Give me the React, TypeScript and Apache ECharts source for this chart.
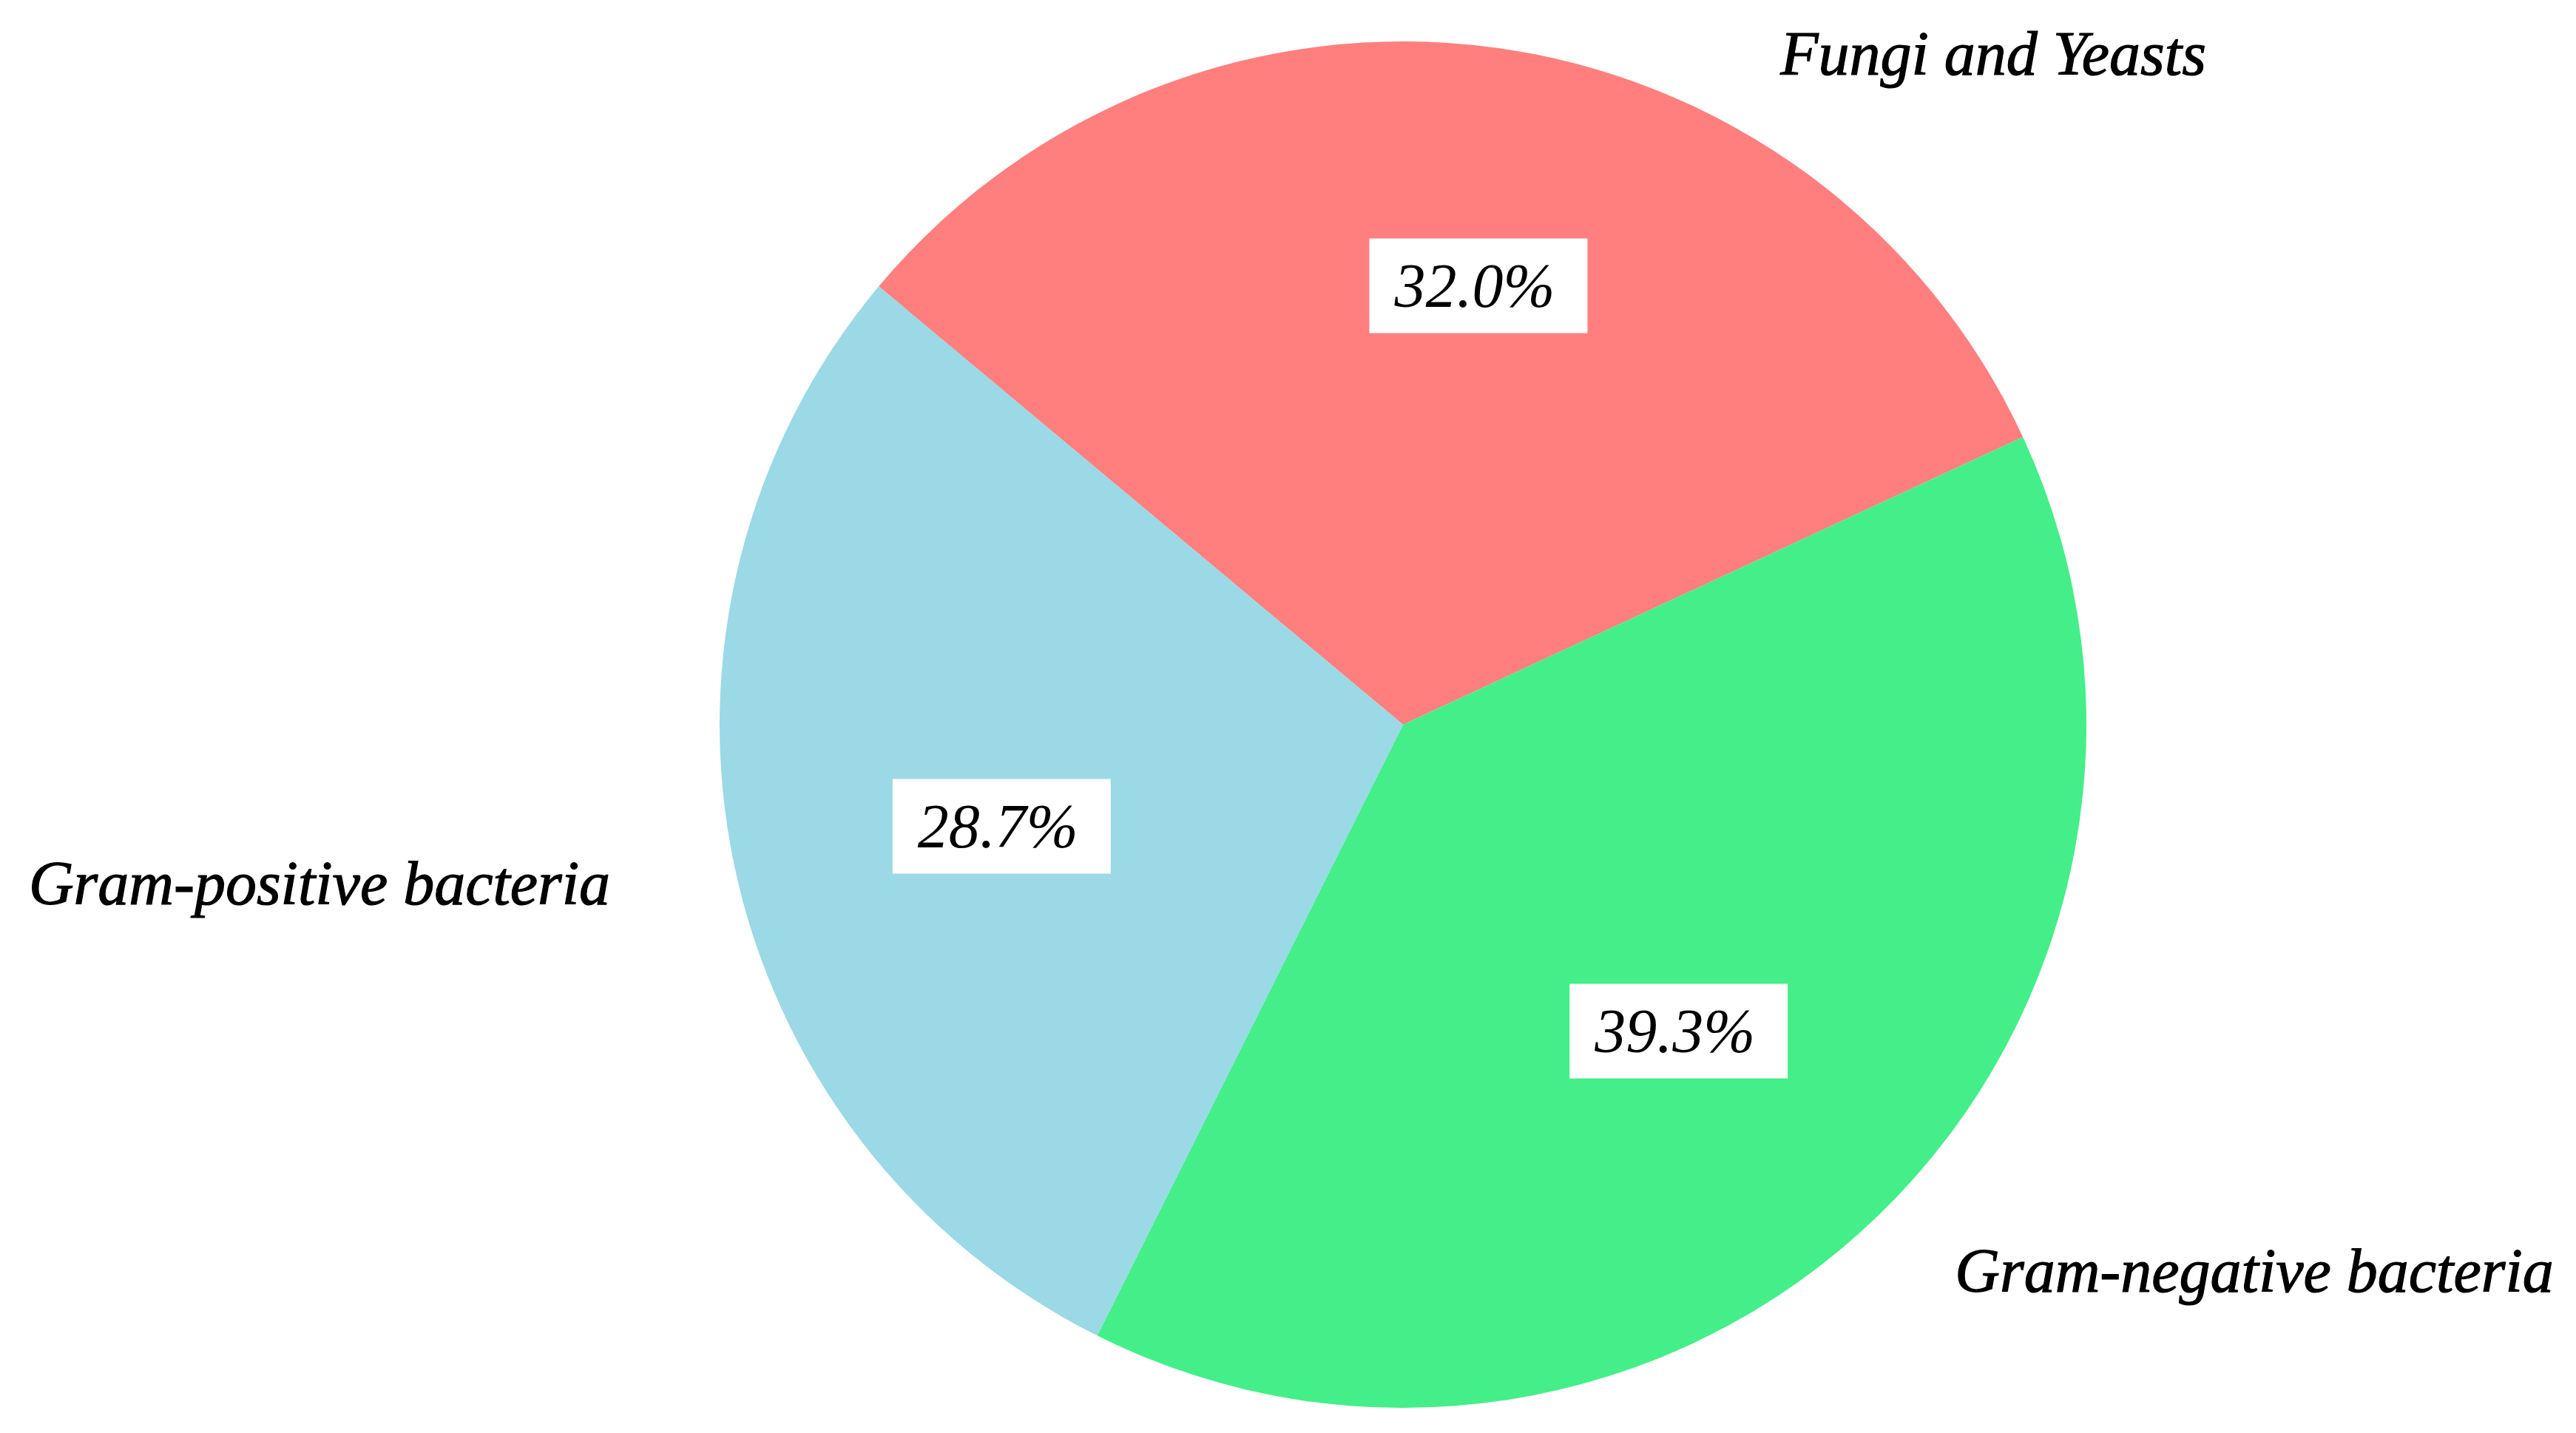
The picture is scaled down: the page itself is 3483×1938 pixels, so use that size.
import React, { useEffect, useRef } from "react";
import * as echarts from "echarts";

const categories = ["Fungi and Yeasts", "Gram-negative bacteria", "Gram-positive bacteria"];
const values = [32.0, 39.3, 28.7];
const colors = ["#FF7F7F", "#44EE89", "#9AD9E5"];
const outerLabelPos: [number, number][] = [
  [2695, 72],
  [3048, 1718],
  [432, 1194],
];
const innerLabelOffset: [number, number][] = [
  [8, -44],
  [0, 0],
  [7, 45],
];

export default function App() {
  const ref = useRef<HTMLDivElement>(null);
  useEffect(() => {
    if (!ref.current) return;
    const chart = echarts.init(ref.current, undefined, { renderer: "svg" });
    const data = categories.map((name, i) => ({
      name,
      value: values[i],
      itemStyle: { color: colors[i] },
    }));
    const center = [1897, 980];
    const R = 924;
    chart.setOption({
      animation: false,
      backgroundColor: "#ffffff",
      series: [
        {
          type: "pie",
          center,
          radius: [0, R],
          startAngle: 140.1,
          clockwise: true,
          silent: true,
          label: { show: false },
          labelLine: { show: false },
          data,
        },
        {
          type: "pie",
          center,
          radius: [R * 0.2, R],
          startAngle: 137.9,
          clockwise: true,
          silent: true,
          itemStyle: { color: "transparent", borderWidth: 0 },
          labelLine: { show: false },
          label: {
            show: true,
            position: "inside",
            formatter: (p: any) => p.value.toFixed(1) + "%",
            fontFamily: "Liberation Serif",
            fontStyle: "italic",
            fontSize: 84,
            color: "#000",
            backgroundColor: "#ffffff",
            padding: [22, 44, 22, 34],
          },
          data: categories.map((name, i) => ({
            name,
            value: values[i],
            label: { offset: innerLabelOffset[i] },
          })),
        },
      ],
      graphic: categories.map((name, i) => ({
        type: "text",
        x: outerLabelPos[i][0],
        y: outerLabelPos[i][1],
        style: {
          text: name,
          fontFamily: "Liberation Serif",
          fontStyle: "italic",
          fontSize: 84,
          fill: "#000",
          stroke: "#000",
          lineWidth: 1.2,
          textAlign: "center",
          textVerticalAlign: "middle",
        },
      })),
    });
    return () => chart.dispose();
  }, []);
  return (
    <div
      ref={ref}
      style={{ position: "fixed", left: 0, top: 0, width: "3483px", height: "1938px" }}
    />
  );
}
